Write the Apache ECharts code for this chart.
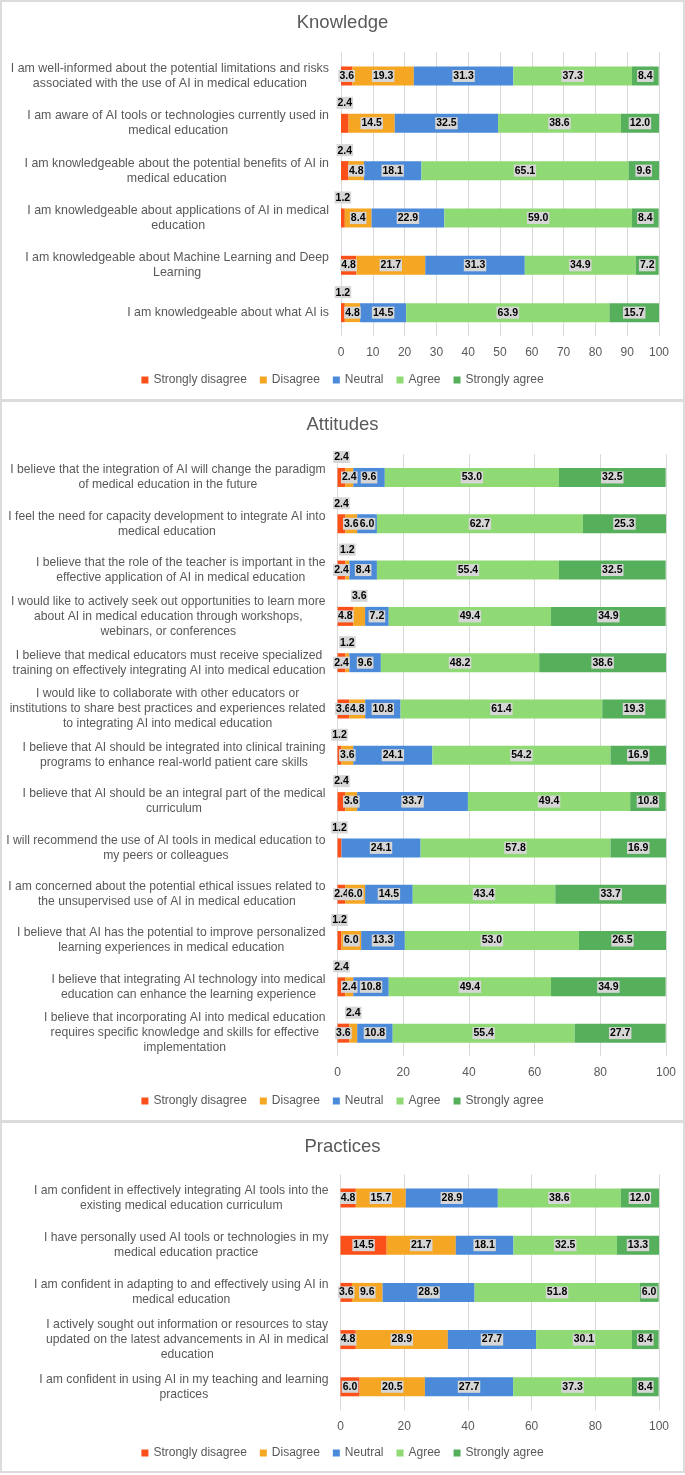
<!DOCTYPE html>
<html>
<head>
<meta charset="utf-8">
<script src="https://cdn.jsdelivr.net/npm/echarts@6/dist/echarts.min.js"></script>
<style>
html,body{margin:0;padding:0;background:#fff;}
#chart{width:685px;height:1475px;}
</style>
</head>
<body>
<div id="chart"></div>
<script>
// ---------- DATA ----------
const seriesNames = ['Strongly disagree', 'Disagree', 'Neutral', 'Agree', 'Strongly agree'];

const knowledgeCategories = [
  'I am well-informed about the potential limitations and risks\nassociated with the use of AI in medical education',
  'I am aware of AI tools or technologies currently used in\nmedical education',
  'I am knowledgeable about the potential benefits of AI in\nmedical education',
  'I am knowledgeable about applications of AI in medical\neducation',
  'I am knowledgeable about Machine Learning and Deep\nLearning',
  'I am knowledgeable about what AI is'
];
const knowledgeStronglyDisagree = [3.6, 2.4, 2.4, 1.2, 4.8, 1.2];
const knowledgeDisagree        = [19.3, 14.5, 4.8, 8.4, 21.7, 4.8];
const knowledgeNeutral         = [31.3, 32.5, 18.1, 22.9, 31.3, 14.5];
const knowledgeAgree           = [37.3, 38.6, 65.1, 59.0, 34.9, 63.9];
const knowledgeStronglyAgree   = [8.4, 12.0, 9.6, 8.4, 7.2, 15.7];
const knowledgeTicks = [0, 10, 20, 30, 40, 50, 60, 70, 80, 90, 100];

const attitudesCategories = [
  'I believe that the integration of AI will change the paradigm\nof medical education in the future',
  'I feel the need for capacity development to integrate AI into\nmedical education',
  'I believe that the role of the teacher is important in the\neffective application of AI in medical education',
  'I would like to actively seek out opportunities to learn more\nabout AI in medical education through workshops,\nwebinars, or conferences',
  'I believe that medical educators must receive specialized\ntraining on effectively integrating AI into medical education',
  'I would like to collaborate with other educators or\ninstitutions to share best practices and experiences related\nto integrating AI into medical education',
  'I believe that AI should be integrated into clinical training\nprograms to enhance real-world patient care skills',
  'I believe that AI should be an integral part of the medical\ncurriculum',
  'I will recommend the use of AI tools in medical education to\nmy peers or colleagues',
  'I am concerned about the potential ethical issues related to\nthe unsupervised use of AI in medical education',
  'I believe that AI has the potential to improve personalized\nlearning experiences in medical education',
  'I believe that integrating AI technology into medical\neducation can enhance the learning experience',
  'I believe that incorporating AI into medical education\nrequires specific knowledge and skills for effective\nimplementation'
];
const attitudesStronglyDisagree = [2.4, 2.4, 2.4, 4.8, 2.4, 3.6, 1.2, 2.4, 1.2, 2.4, 1.2, 2.4, 3.6];
const attitudesDisagree        = [2.4, 3.6, 1.2, 3.6, 1.2, 4.8, 3.6, 3.6, 0, 6.0, 6.0, 2.4, 2.4];
const attitudesNeutral         = [9.6, 6.0, 8.4, 7.2, 9.6, 10.8, 24.1, 33.7, 24.1, 14.5, 13.3, 10.8, 10.8];
const attitudesAgree           = [53.0, 62.7, 55.4, 49.4, 48.2, 61.4, 54.2, 49.4, 57.8, 43.4, 53.0, 49.4, 55.4];
const attitudesStronglyAgree   = [32.5, 25.3, 32.5, 34.9, 38.6, 19.3, 16.9, 10.8, 16.9, 33.7, 26.5, 34.9, 27.7];
const attitudesTicks = [0, 20, 40, 60, 80, 100];

const practicesCategories = [
  'I am confident in effectively integrating AI tools into the\nexisting medical education curriculum',
  'I have personally used AI tools or technologies in my\nmedical education practice',
  'I am confident in adapting to and effectively using AI in\nmedical education',
  'I actively sought out information or resources to stay\nupdated on the latest advancements in AI in medical\neducation',
  'I am confident in using AI in my teaching and learning\npractices'
];
const practicesStronglyDisagree = [4.8, 14.5, 3.6, 4.8, 6.0];
const practicesDisagree        = [15.7, 21.7, 9.6, 28.9, 20.5];
const practicesNeutral         = [28.9, 18.1, 28.9, 27.7, 27.7];
const practicesAgree           = [38.6, 32.5, 51.8, 30.1, 37.3];
const practicesStronglyAgree   = [12.0, 13.3, 6.0, 8.4, 8.4];
const practicesTicks = [0, 20, 40, 60, 80, 100];

// ---------- STYLE / LAYOUT CONFIG ----------
const colors = ['#FB5019', '#F5A623', '#4A8AD8', '#8FDA74', '#56AF5B'];
// labels that sit above their (narrow) segment: [row, seriesIndex]
const raisedKnowledge = [[1,0],[2,0],[3,0],[5,0]];
const raisedAttitudes = [[0,0],[1,0],[2,1],[3,1],[4,1],[6,0],[7,0],[8,0],[10,0],[11,0],[12,1]];
const raisedPractices = [];

const panels = [
  { title: 'Knowledge', titleY: 23, cats: knowledgeCategories, catFont: 12.4,
    values: [knowledgeStronglyDisagree, knowledgeDisagree, knowledgeNeutral, knowledgeAgree, knowledgeStronglyAgree],
    ticks: knowledgeTicks, raised: raisedKnowledge,
    grid: { left: 341, width: 318, top: 52.3, height: 284 }, legendY: 381 },
  { title: 'Attitudes', titleY: 425, cats: attitudesCategories, catFont: 12.15,
    values: [attitudesStronglyDisagree, attitudesDisagree, attitudesNeutral, attitudesAgree, attitudesStronglyAgree],
    ticks: attitudesTicks, raised: raisedAttitudes,
    grid: { left: 337.5, width: 328.5, top: 454.3, height: 602 }, legendY: 1102 },
  { title: 'Practices', titleY: 1147, cats: practicesCategories, catFont: 12.2,
    values: [practicesStronglyDisagree, practicesDisagree, practicesNeutral, practicesAgree, practicesStronglyAgree],
    ticks: practicesTicks, raised: raisedPractices,
    grid: { left: 340.5, width: 318.5, top: 1174.4, height: 236 }, legendY: 1454 }
];

const FONT = "'Liberation Sans', Arial, sans-serif";
const TXT = '#595959';

const chart = echarts.init(document.getElementById('chart'), null, { renderer: 'canvas' });

const option = {
  animation: false,
  backgroundColor: '#ffffff',
  textStyle: { fontFamily: FONT },
  title: [], legend: [], grid: [], xAxis: [], yAxis: [], series: [],
  graphic: [
    { type: 'rect', shape: { x: 1, y: 1, width: 683, height: 399 }, style: { fill: 'none', stroke: '#dcdcdc', lineWidth: 2 }, z: 100 },
    { type: 'rect', shape: { x: 1, y: 401, width: 683, height: 720 }, style: { fill: 'none', stroke: '#dcdcdc', lineWidth: 2 }, z: 100 },
    { type: 'rect', shape: { x: 1, y: 1122, width: 683, height: 350 }, style: { fill: 'none', stroke: '#dcdcdc', lineWidth: 2 }, z: 100 }
  ]
};

panels.forEach((p, i) => {
  option.title.push({
    text: p.title, left: 'center', top: p.titleY - 11, padding: 0,
    textStyle: { fontSize: 18.5, fontWeight: 'normal', color: TXT, fontFamily: FONT, lineHeight: 22 }
  });
  option.legend.push({
    data: seriesNames, left: 'center', top: p.legendY - 7, padding: 0,
    icon: 'rect', itemWidth: 7, itemHeight: 7, itemGap: 13,
    textStyle: { fontSize: 12, color: TXT, fontFamily: FONT }
  });
  option.grid.push(Object.assign({ containLabel: false, outerBoundsMode: 'none' }, p.grid));
  const tmin = p.ticks[0], tmax = p.ticks[p.ticks.length - 1];
  option.xAxis.push({
    type: 'value', gridIndex: i, min: tmin, max: tmax, interval: p.ticks[1] - p.ticks[0],
    axisLine: { show: false }, axisTick: { show: false },
    splitLine: { show: true, lineStyle: { color: '#d9d9d9', width: 1 } },
    axisLabel: { color: TXT, fontSize: 12, margin: 10, fontFamily: FONT }
  });
  option.yAxis.push({
    type: 'category', gridIndex: i, data: p.cats, inverse: true,
    axisLine: { show: false }, axisTick: { show: false }, splitLine: { show: false },
    axisLabel: {
      margin: 12, align: 'right',
      formatter: v => v.split('\n').map(s => '{c|' + s + '}').join('\n'),
      rich: { c: { align: 'center', color: TXT, fontSize: p.catFont, lineHeight: 15, fontFamily: FONT } }
    }
  });
  p.values.forEach((vals, s) => {
    const data = vals.map((v, r) => {
      const item = { value: v };
      if (v === 0) item.label = { show: false };
      else if (p.raised.some(q => q[0] === r && q[1] === s)) item.label = { position: 'top', distance: 5 };
      return item;
    });
    option.series.push({
      name: seriesNames[s], type: 'bar', stack: 'panel' + i,
      xAxisIndex: i, yAxisIndex: i, barWidth: 19,
      itemStyle: { color: colors[s] },
      label: {
        show: true, position: 'inside',
        formatter: d => d.value.toFixed(1),
        color: '#000', fontWeight: 'bold', fontSize: 10.5, fontFamily: FONT,
        backgroundColor: '#d6d6d6', padding: [1, 1, 0, 1], lineHeight: 11
      },
      data: data
    });
  });
});

chart.setOption(option);
</script>
</body>
</html>
